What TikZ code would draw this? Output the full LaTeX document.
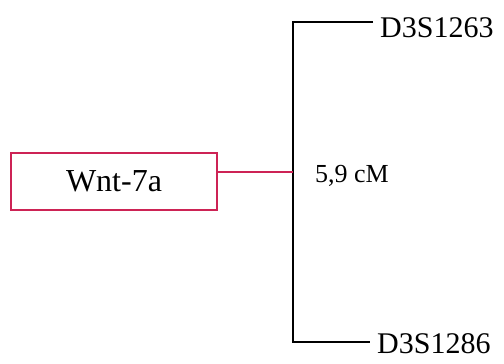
\documentclass[tikz,border=0pt]{standalone}
\usepackage{fontspec}
\setmainfont{Liberation Serif}
\definecolor{genered}{RGB}{205,35,85}

\begin{document}
\begin{tikzpicture}[x=1pt, y=-1pt]
				\useasboundingbox (0,0) rectangle (504,364);
				\node[draw=genered, line width=1.6pt, rectangle, minimum width=206pt, minimum height=57pt, font=\fontsize{32}{38}\selectfont] (W7)at(114, 181.5) {Wnt-7a};
				\coordinate (top)at(293, 22);
				\coordinate (bot)at(293, 342);
				\coordinate (join)at(293, 172);
				\node[anchor=base west, inner xsep=7pt, inner ysep=0pt, font=\fontsize{30}{36}\selectfont] (M1)at(373, 37) {D3S1263};
				\node[anchor=base west, inner xsep=7pt, inner ysep=0pt, font=\fontsize{30}{36}\selectfont] (M2)at(370, 353) {D3S1286};
				\node[anchor=base west, inner sep=0pt, font=\fontsize{26}{31}\selectfont] (dist)at(315, 182) {5,9 cM};
				\draw[line width=1.6pt] (M1.west |- top) -- (top) -- (bot) -- (M2.west |- bot);
				\draw[genered, line width=1.6pt] (W7.east |- join) -- (join);
			\end{tikzpicture}
\end{document}
